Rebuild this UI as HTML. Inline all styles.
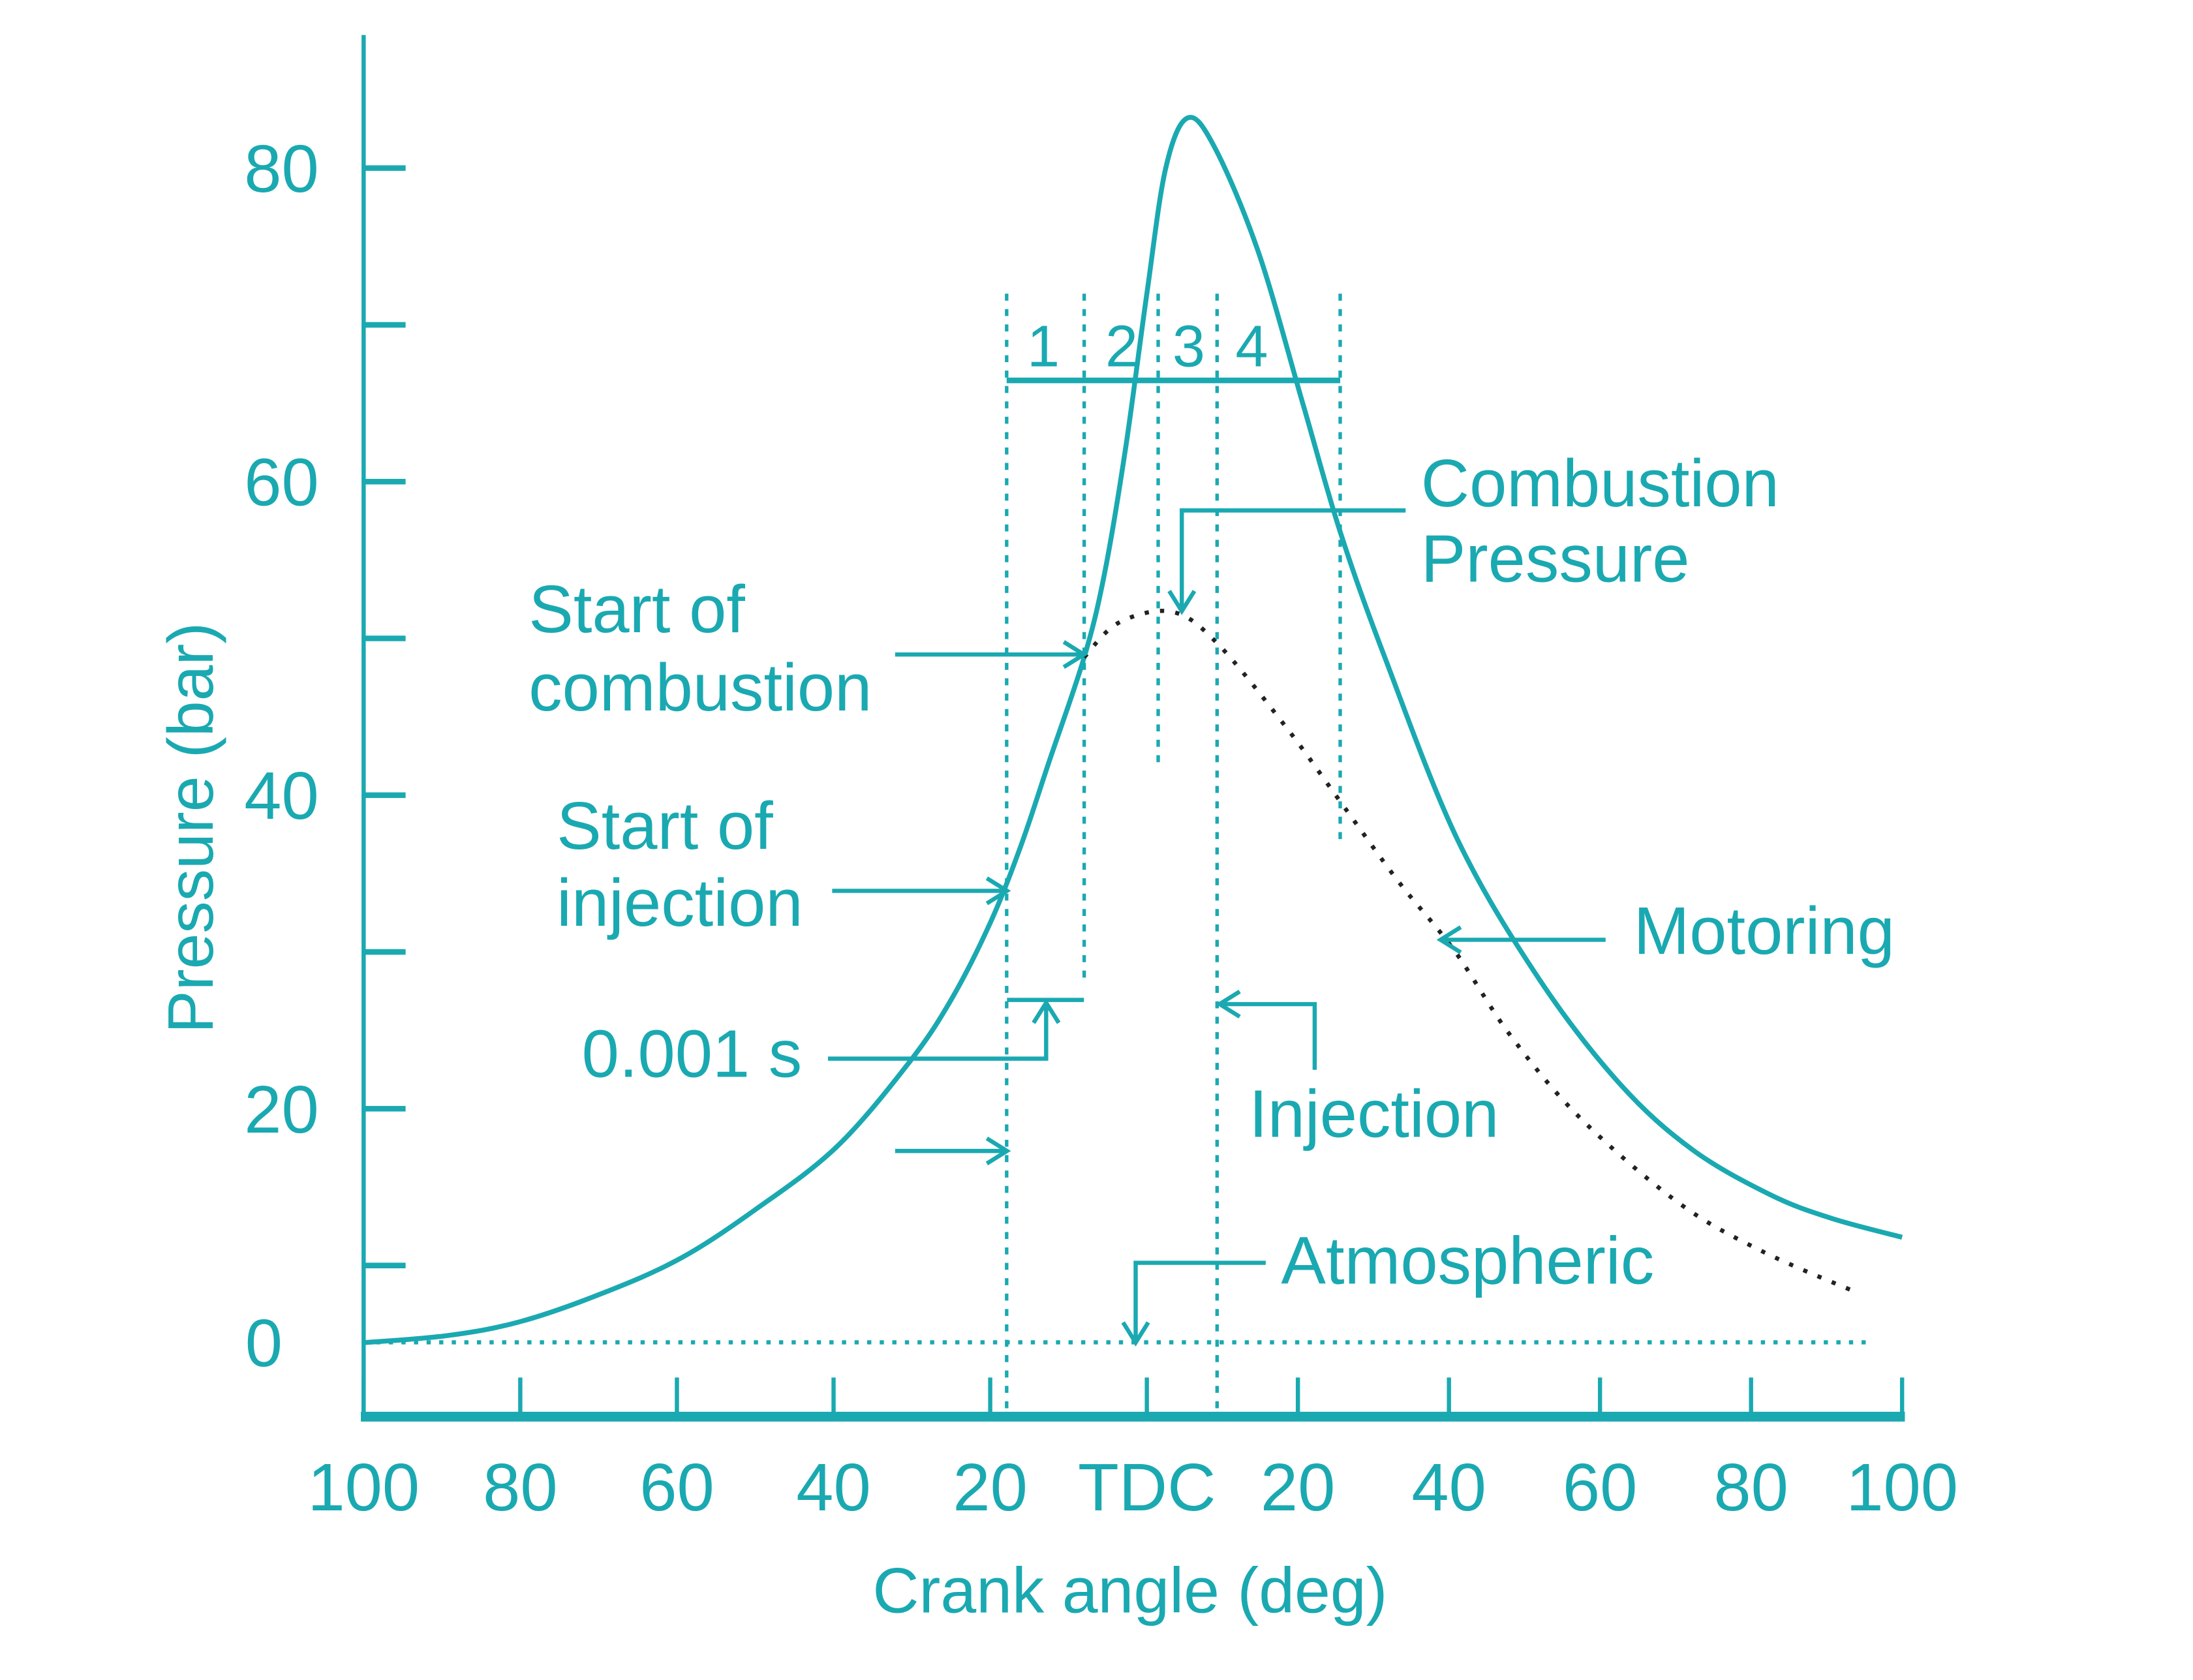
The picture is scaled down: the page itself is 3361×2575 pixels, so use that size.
<!DOCTYPE html>
<html><head><meta charset="utf-8"><style>
html,body{margin:0;padding:0;background:#fff;}
svg{display:block;}
text{font-family:"Liberation Sans",Arial,sans-serif;fill:#1aa9b1;}
</style></head><body>
<svg id="chart" width="3361" height="2575" viewBox="0 0 1568 1201.3" preserveAspectRatio="none" xmlns="http://www.w3.org/2000/svg">
<g id="axes" stroke="#1aa9b1" fill="none"></g>
<g id="marks"></g>
<g id="annot" stroke="#1aa9b1" fill="none" stroke-width="3"></g>
<text x="0" y="0" font-size="46" text-anchor="middle" transform="translate(152,592) rotate(-90)">Pressure (bar)</text>
<text x="808" y="1153" font-size="46" text-anchor="middle">Crank angle (deg)</text>
<g font-size="42" text-anchor="middle">
<text x="746" y="262">1</text><text x="802" y="262">2</text><text x="850" y="262">3</text><text x="895" y="262">4</text>
</g>
<g font-size="48">
<text x="1016" y="362">Combustion</text>
<text x="1016" y="416">Pressure</text>
<text x="378" y="452">Start of</text>
<text x="378" y="508">combustion</text>
<text x="398" y="607">Start of</text>
<text x="398" y="662">injection</text>
<text x="416" y="770">0.001 s</text>
<text x="1168" y="682">Motoring</text>
<text x="893" y="813">Injection</text>
<text x="916" y="918">Atmospheric</text>
</g>
</svg>
<script>
const xTicks = [-100,-80,-60,-40,-20,0,20,40,60,80,100];
const xTickLabels = ["100","80","60","40","20","TDC","20","40","60","80","100"];
const yTicks = [10,20,30,40,50,60,70,80];
const yTickLabels = ["","20","","40","","60","","80"];
const atmBar = 5.1;
const combAngle = [-100,-89.3,-80,-69.6,-59.6,-50,-39.6,-30.4,-25,-20,-16.1,-12.5,-8,-5.4,-2.7,0,2.5,5.4,9,14.8,20.7,25.6,31.5,41.1,51.9,62.6,72.2,82.6,90.7,100];
const combBar = [5.08,5.53,6.42,8.21,10.44,13.56,17.57,22.92,26.94,31.85,36.75,42.11,48.8,54.15,62.18,71.99,80.0,83.2,81.3,74.6,64.9,56.8,48.8,37.2,28.3,21.6,17.4,14.5,13.0,11.8];
const motAngle = [-8,-3.6,3.3,9.3,18.5,25.9,33.3,40.7,48.1,57.4,70.4,81.5,94.4];
const motBar = [48.8,51,51.7,49.7,44.3,39.4,34.5,30.1,24.7,19.4,14,10.9,8.2];
const phaseBounds = [-17.9,-8,1.5,9.3,25.6];

const NS="http://www.w3.org/2000/svg";
function X(d){return d<0?820+d*5.6:820+d*5.4;}
function Y(b){return 1017-b*11.21;}
function mk(parent,tag,attrs){const e=document.createElementNS(NS,tag);for(const k in attrs)e.setAttribute(k,attrs[k]);parent.appendChild(e);return e;}
function smooth(xs,ys){let p=xs.map((x,i)=>[X(x),Y(ys[i])]);let d="M"+p[0][0]+","+p[0][1];
for(let i=0;i<p.length-1;i++){const p0=p[i-1]||p[i],p1=p[i],p2=p[i+1],p3=p[i+2]||p2;
d+=" C"+(p1[0]+(p2[0]-p0[0])/6)+","+(p1[1]+(p2[1]-p0[1])/6)+" "+(p2[0]-(p3[0]-p1[0])/6)+","+(p2[1]-(p3[1]-p1[1])/6)+" "+p2[0]+","+p2[1];}return d;}
const ax=document.getElementById('axes');
let e=mk(ax,'line',{x1:260,y1:25,x2:260,y2:1016,'stroke-width':3});


e=mk(ax,'line',{x1:258,y1:1013,x2:1362,y2:1013,'stroke-width':7});


const svg=document.getElementById('chart');
xTicks.forEach((t,i)=>{const x=X(t);
 let l=mk(ax,'line',{x1:x,y1:985,x2:x,y2:1013,'stroke-width':3});
 
 
 let tx=mk(svg,'text',{x:x,y:1080,'font-size':48,'text-anchor':'middle'});tx.textContent=xTickLabels[i];
 
 });
yTicks.forEach((t,i)=>{const y=Y(t);
 let l=mk(ax,'line',{x1:260,y1:y,x2:290,y2:y,'stroke-width':4});
 
 
 if(yTickLabels[i]){let tx=mk(svg,'text',{x:228,y:y+17,'font-size':48,'text-anchor':'end'});tx.textContent=yTickLabels[i];
 
 }});
let z=mk(svg,'text',{x:202,y:Y(atmBar)+17,'font-size':48,'text-anchor':'end'});z.textContent="0";


const mg=document.getElementById('marks');
let atm=mk(mg,'line',{x1:260,y1:Y(atmBar),x2:1335,y2:Y(atmBar),stroke:'#1aa9b1','stroke-width':3,'stroke-dasharray':'3 6'});


let c=mk(mg,'path',{d:smooth(combAngle,combBar),stroke:'#1aa9b1','stroke-width':3.5,fill:'none'});


let m=mk(mg,'path',{d:smooth(motAngle,motBar),stroke:'#222','stroke-width':3,fill:'none','stroke-dasharray':'3 8'});


const vEnds=[1013,700,545,1013,600];
phaseBounds.forEach((a,i)=>{let l=mk(mg,'line',{x1:X(a),y1:210,x2:X(a),y2:vEnds[i],stroke:'#1aa9b1','stroke-width':2.5,'stroke-dasharray':'5 6'});
 
 });
let hb=mk(mg,'line',{x1:X(phaseBounds[0]),y1:272,x2:X(phaseBounds[4]),y2:272,stroke:'#1aa9b1','stroke-width':4});


const an=document.getElementById('annot');
function arrowHead(x,y,dir){const s=9;let d;
 if(dir==='r')d=`M${x-s*1.6},${y-s} L${x},${y} L${x-s*1.6},${y+s}`;
 if(dir==='l')d=`M${x+s*1.6},${y-s} L${x},${y} L${x+s*1.6},${y+s}`;
 if(dir==='d')d=`M${x-s},${y-s*1.6} L${x},${y} L${x+s},${y-s*1.6}`;
 if(dir==='u')d=`M${x-s},${y+s*1.6} L${x},${y} L${x+s},${y+s*1.6}`;
 let p=mk(an,'path',{d:d});
 
 }
function pl(pts){let p=mk(an,'polyline',{points:pts});
 
 }
pl("1005,365 845,365 845,435");arrowHead(845,437,'d');
pl("640,468 775,468");arrowHead(775,468,'r');
pl("595,637 720,637");arrowHead(720,637,'r');
pl("592,757 748,757 748,718");arrowHead(748,717,'u');
pl("720,715 775,715");
pl("640,823 720,823");arrowHead(720,823,'r');
pl("1148,672 1030,672");arrowHead(1030,672,'l');
pl("940,765 940,718 872,718");arrowHead(872,718,'l');
pl("905,903 812,903 812,960");arrowHead(812,960,'d');
</script>
</body></html>
